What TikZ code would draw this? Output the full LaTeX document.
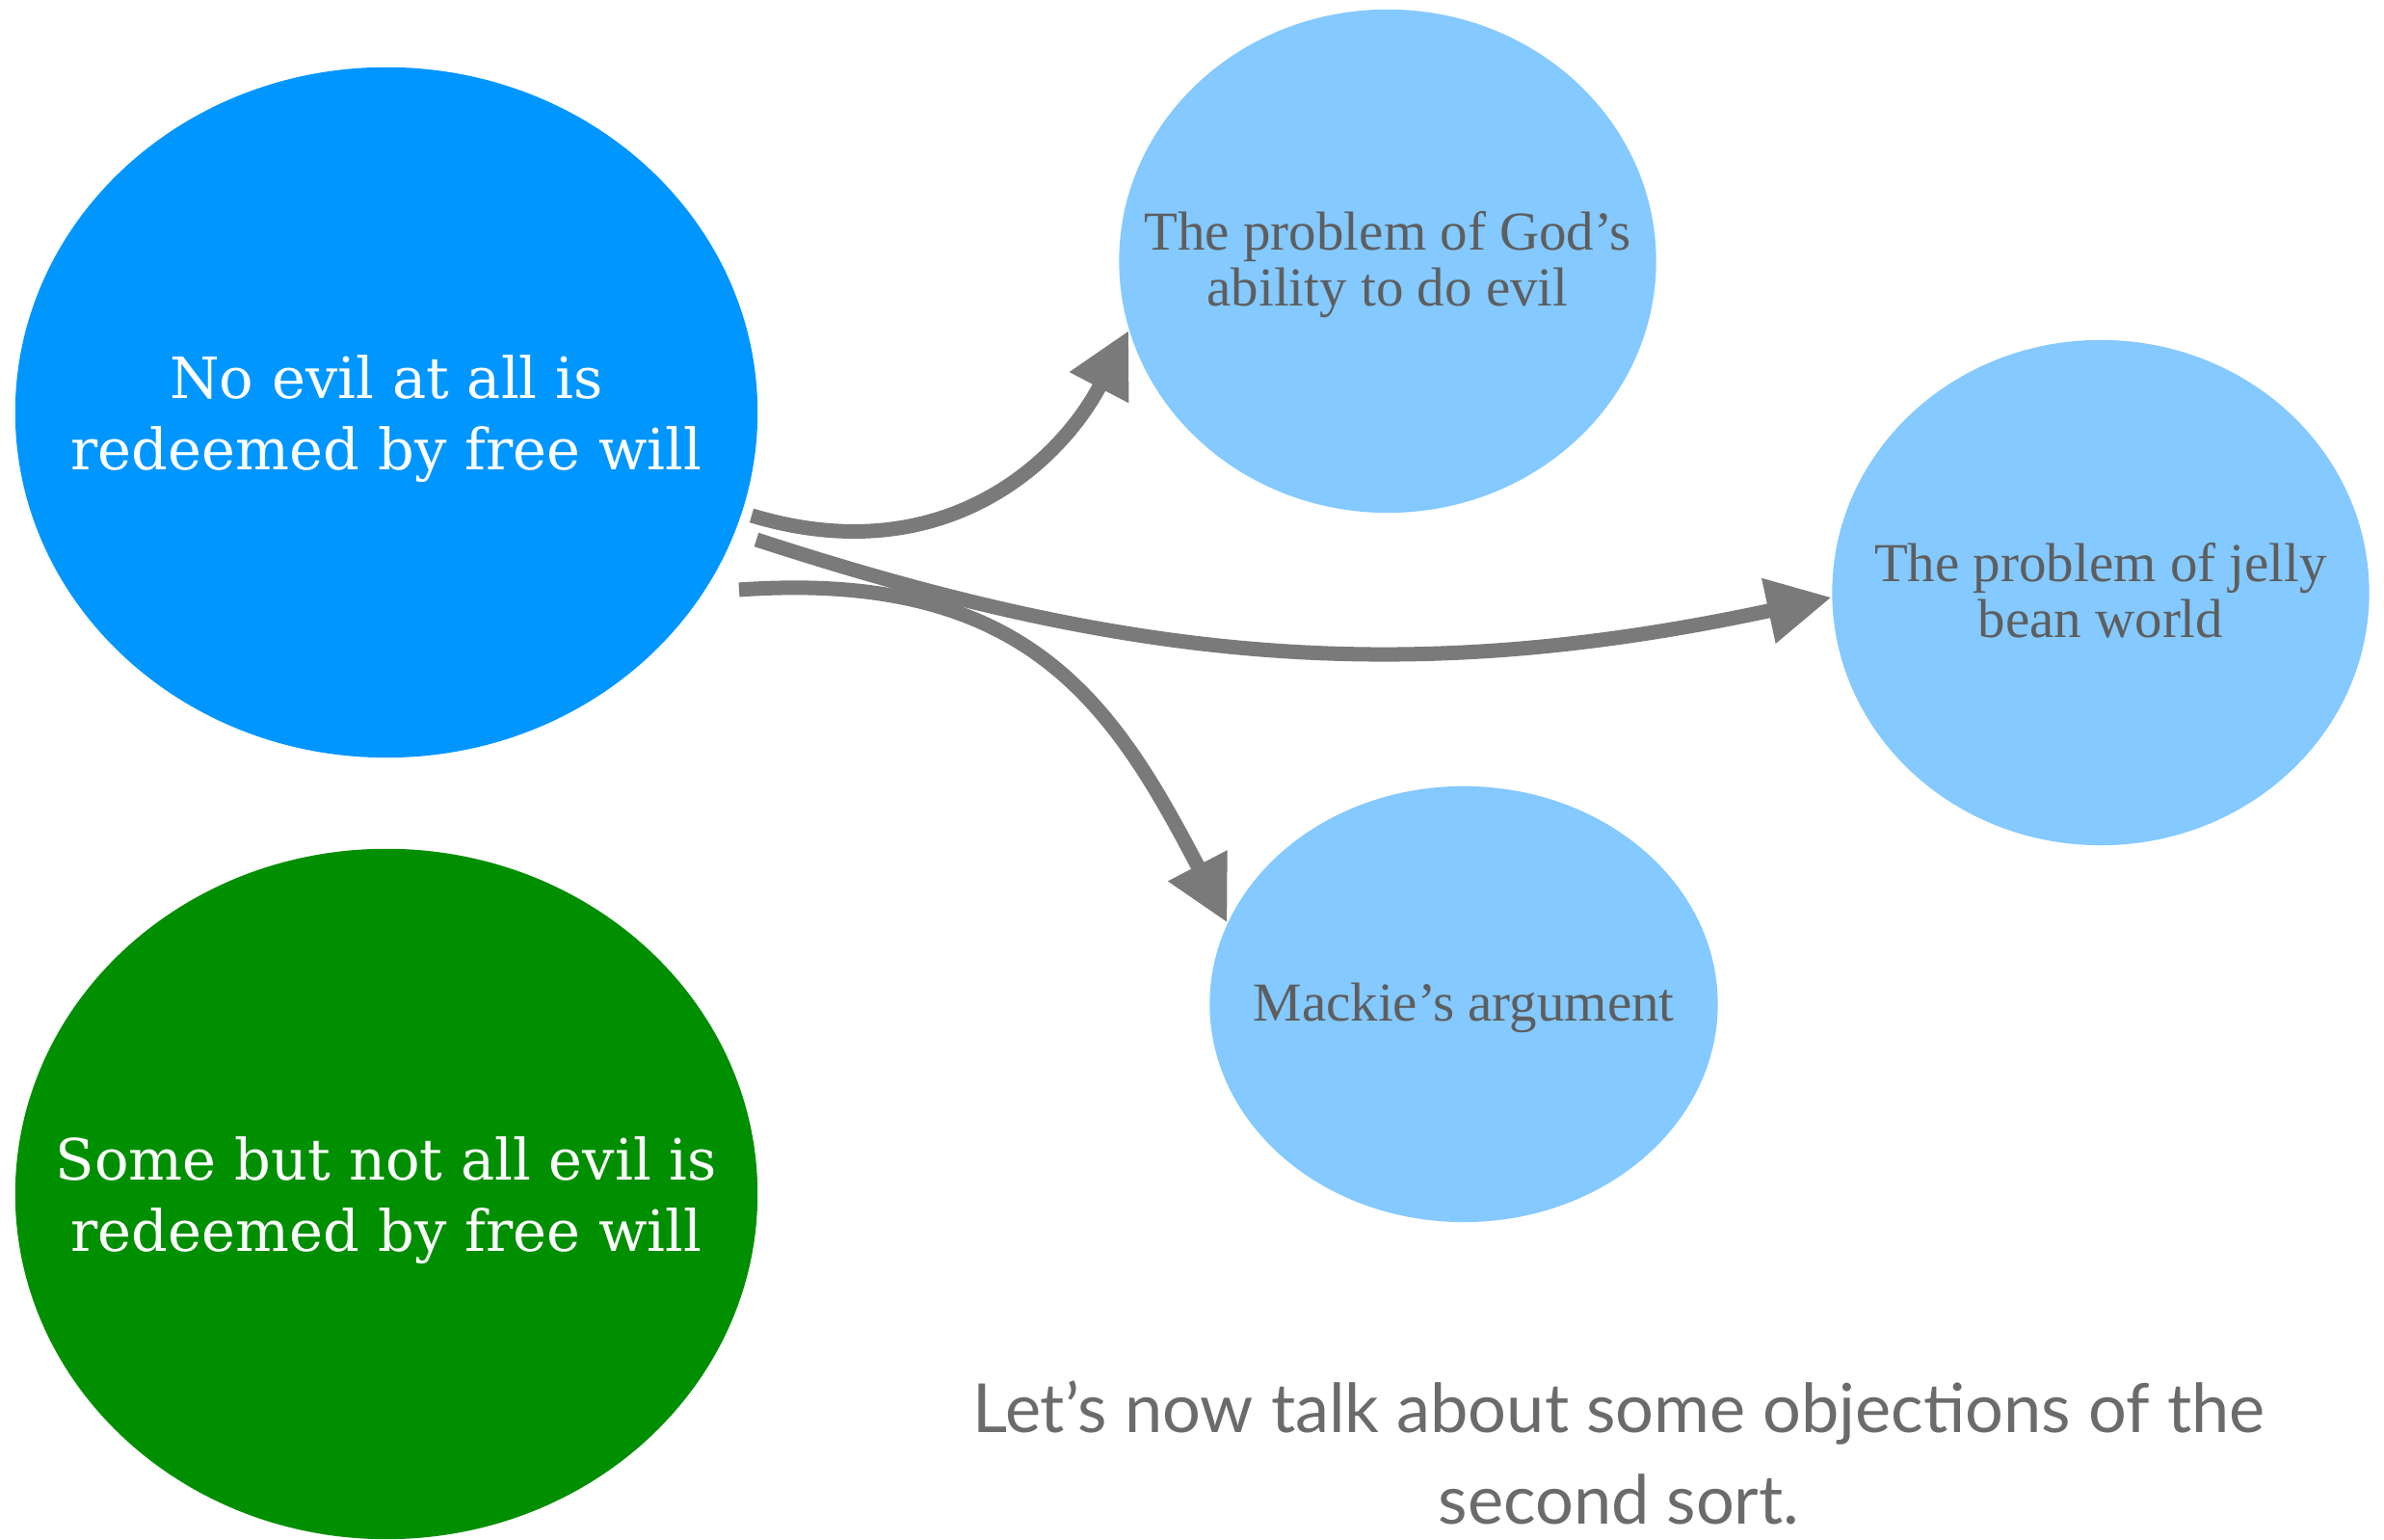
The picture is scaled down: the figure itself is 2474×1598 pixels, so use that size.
\documentclass[tikz,border=0pt]{standalone}
\usepackage{fontspec}
\usetikzlibrary{shapes.geometric,arrows.meta,calc}
\setmainfont{Liberation Serif}
\newfontfamily\labelsans{Lato}
\newfontfamily\slabserif{DejaVu Serif}
\definecolor{bigblue}{HTML}{0096FF}
\definecolor{biggreen}{HTML}{008F00}
\definecolor{lightblue}{HTML}{84C9FF}
\definecolor{arrowgray}{HTML}{7A7A7A}
\definecolor{textgray}{HTML}{5E5E5E}
\definecolor{notegray}{HTML}{6B6B6B}
\newcommand{\ctext}[2]{\makebox[0pt][c]{\raisebox{-#1}[\height][\depth]{\begin{tabular}{@{}c@{}}#2\end{tabular}}}}
\begin{document}
\begin{tikzpicture}[x=0.01cm,y=0.01cm,
  bigell/.style={ellipse, inner sep=0pt, minimum width=7.70cm, minimum height=7.16cm, text=white,
     font=\slabserif\fontsize{16.8}{21}\selectfont},
  smallell/.style={ellipse, inner sep=0pt, fill=lightblue, text=textgray,
     font=\fontsize{16.2}{16.6}\selectfont},
  conn/.style={draw=arrowgray, line width=4.27pt, -{Triangle[length=19pt,width=18.5pt]}}
]
\useasboundingbox (0,0) rectangle (2474,1598);
\fill[white] (0,0) rectangle (2474,1598);

\node[bigell, fill=bigblue] (A) at (401,1170) {\ctext{2.2pt}{No evil at all is\\redeemed by free will}};
\node[bigell, fill=biggreen] (G) at (401,359) {\ctext{2.2pt}{Some but not all evil is\\redeemed by free will}};
\node[smallell, minimum width=5.57cm, minimum height=5.22cm] (T) at (1440,1327) {\ctext{1.7pt}{The problem of God’s\\ability to do evil}};
\node[smallell, minimum width=5.57cm, minimum height=5.24cm] (J) at (2180,983) {\ctext{1.7pt}{The problem of jelly\\bean world}};
\node[smallell, minimum width=5.27cm, minimum height=4.52cm] (M) at (1519,556) {\ctext{1.7pt}{Mackie’s argument}};

\node[text=notegray, align=center, font=\labelsans\fontsize{20}{27}\selectfont] (note) at (1680,91)
  {Let’s now talk about some objections of the\\second sort.};

\coordinate (s1) at ($(A.center)+(379,-107)$);
\coordinate (s2) at ($(A.center)+(384,-132)$);
\coordinate (s3) at ($(A.center)+(366,-184)$);

\draw[conn] (s1) .. controls (980,1003) and (1101,1120) .. (T.195.6);
\draw[conn] (s2) .. controls (1165,914) and (1453,882) .. (J.181.4);
\draw[conn] (s3) .. controls (1066,1007) and (1155,868) .. (M.161);
\end{tikzpicture}
\end{document}
